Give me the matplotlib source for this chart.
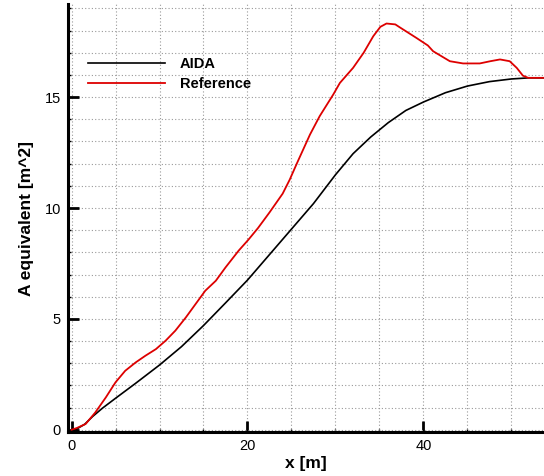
import matplotlib
matplotlib.use("Agg")
import matplotlib.pyplot as plt
from matplotlib.ticker import MultipleLocator

plt.rcParams["font.family"] = ["Liberation Sans", "DejaVu Sans"]

# AIDA curve
aida_x = [0.0, 0.6, 1.5, 2.4, 3.5, 5.0, 7.3, 10.0, 12.5, 15.0, 17.5,
          20.0, 22.5, 25.0, 27.5, 30.0, 32.0, 34.0, 36.0, 38.0, 40.0, 42.5,
          45.0, 47.5, 50.0, 52.0, 53.8]
aida_y = [0.0, 0.04, 0.25, 0.6, 0.97, 1.42, 2.1, 2.92, 3.75, 4.7, 5.72,
          6.75, 7.9, 9.05, 10.2, 11.5, 12.45, 13.2, 13.85, 14.4, 14.78, 15.2,
          15.5, 15.7, 15.82, 15.87, 15.87]

# Reference curve
ref_x = [0.0, 0.6, 1.6, 2.7, 3.9, 5.0, 6.1, 7.3, 8.4, 9.6, 10.7, 11.8, 13.0,
         14.1, 15.2, 16.4, 17.5, 19.0, 20.1, 21.2, 22.5, 24.0, 24.8, 25.6,
         27.1, 28.2, 29.75, 30.5, 32.0, 33.2, 34.3, 35.1, 35.8, 36.8, 37.3,
         39.2, 40.5, 41.1, 43.0, 44.5, 46.4, 47.6, 48.7, 49.8, 50.6, 51.3,
         51.9, 53.8]
ref_y = [0.0, 0.08, 0.26, 0.78, 1.46, 2.14, 2.66, 3.04, 3.34, 3.64, 4.02,
         4.47, 5.07, 5.67, 6.27, 6.72, 7.32, 8.08, 8.57, 9.1, 9.8, 10.65,
         11.28, 12.0, 13.31, 14.14, 15.12, 15.64, 16.32, 17.0, 17.75, 18.17,
         18.32, 18.28, 18.15, 17.67, 17.33, 17.07, 16.62, 16.52, 16.52, 16.62,
         16.7, 16.62, 16.32, 15.97, 15.87, 15.87]

fig = plt.figure(figsize=(5.44, 4.76), dpi=100)
ax = fig.add_axes([68 / 544, 1 - 432 / 476, 476 / 544, 428 / 476])

ax.plot(aida_x, aida_y, color="black", lw=1.2, label="AIDA")
ax.plot(ref_x, ref_y, color="#dd0000", lw=1.3, label="Reference")

ax.set_xlim(-0.4, 53.7)
ax.set_ylim(-0.1, 19.2)

ax.xaxis.set_major_locator(MultipleLocator(20))
ax.xaxis.set_minor_locator(MultipleLocator(5))
ax.yaxis.set_major_locator(MultipleLocator(5))
ax.yaxis.set_minor_locator(MultipleLocator(1))

ax.grid(True, which="both", color="#999999", linestyle=(0, (1, 2)), lw=0.8)
ax.set_axisbelow(True)

for s in ["top", "right"]:
    ax.spines[s].set_visible(False)
for s in ["left", "bottom"]:
    ax.spines[s].set_linewidth(2.2)

ax.tick_params(which="major", direction="in", length=8, width=2, labelsize=10.5,
               pad=5, colors="black")
ax.tick_params(which="minor", direction="in", length=2.5, width=1)

ax.set_xlabel("x [m]", fontsize=12.5, fontweight="bold", labelpad=2)
ax.set_ylabel("A equivalent [m^2]", fontsize=12.5, fontweight="bold", labelpad=8)

ax.legend(loc="upper left", bbox_to_anchor=(0.042, 0.875), frameon=False,
          borderpad=0, borderaxespad=0, handlelength=5.3, handletextpad=1.0,
          labelspacing=0.35, prop={"size": 10.5, "weight": "bold"})

plt.savefig("out.png", dpi=100)
